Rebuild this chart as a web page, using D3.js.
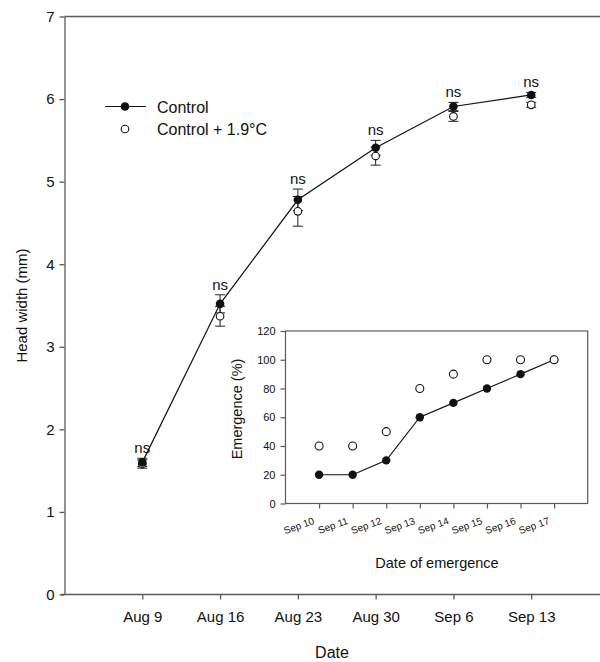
<!DOCTYPE html>
<html><head><meta charset="utf-8">
<script src="https://cdn.jsdelivr.net/npm/d3@7"></script>
<style>
body{margin:0;background:#fff}
text{font-family:"Liberation Sans",Arial,Helvetica,sans-serif;fill:#111}
</style>
</head><body>
<svg id="chart" width="600" height="662"></svg>
<script>
// ---- Main panel data ----
const sampleDates = ["2010-08-09","2010-08-16","2010-08-23","2010-08-30","2010-09-06","2010-09-13"];
const mainXTickLabels = ["Aug 9","Aug 16","Aug 23","Aug 30","Sep 6","Sep 13"];
const controlWidth = [1.60, 3.52, 4.78, 5.41, 5.91, 6.05];
const controlSE    = [0.05, 0.11, 0.13, 0.09, 0.05, 0.03];
const warmedWidth  = [1.58, 3.37, 4.64, 5.31, 5.79, 5.93];
const warmedSE     = [0.05, 0.12, 0.18, 0.11, 0.06, 0.03];
const sigLabels    = ["ns","ns","ns","ns","ns","ns"];
const mainYTicks   = [0,1,2,3,4,5,6,7];
const mainXDomain  = ["2010-08-02","2010-09-20"];
const seriesNames  = ["Control","Control + 1.9°C"];

// ---- Inset data ----
const emergeDates = ["2010-09-10","2010-09-11","2010-09-12","2010-09-13","2010-09-14","2010-09-15","2010-09-16","2010-09-17"];
const insetXTickLabels = ["Sep 10","Sep 11","Sep 12","Sep 13","Sep 14","Sep 15","Sep 16","Sep 17"];
const emergeControl = [20, 20, 30, 60, 70, 80, 90, 100];
const emergeWarmed  = [40, 40, 50, 80, 90, 100, 100, 100];
const insetYTicks   = [0,20,40,60,80,100,120];
const insetXDomain  = ["2010-09-09","2010-09-18"];

const parse = d3.timeParse("%Y-%m-%d");
const svg = d3.select("#chart");
const axisColor = "#5a5a5a";

// ---- Main scales ----
const x = d3.scaleTime().domain(mainXDomain.map(parse)).range([64.5, 609]);
const y = d3.scaleLinear().domain([0, 7]).range([594.5, 16.5]);

const main = svg.append("g");

// top border
main.append("line").attr("x1", 64.5).attr("x2", 600).attr("y1", 16.5).attr("y2", 16.5)
  .attr("stroke", axisColor).attr("stroke-width", 1.3);

const xAxis = main.append("g").attr("transform", `translate(0,${y(0)})`)
  .call(d3.axisBottom(x).tickValues(sampleDates.map(parse))
    .tickFormat((d,i)=>mainXTickLabels[i]).tickSize(5).tickSizeOuter(0).tickPadding(12));
const yAxis = main.append("g").attr("transform", `translate(${x.range()[0]},0)`)
  .call(d3.axisLeft(y).tickValues(mainYTicks).tickFormat(d3.format("d"))
    .tickSize(5).tickSizeOuter(0).tickPadding(5));
[xAxis, yAxis].forEach(g => {
  g.selectAll("path, line").attr("stroke", axisColor).attr("stroke-width", 1.3);
  g.selectAll("text").style("font-size", "15px").style("font-family", '"Liberation Sans",Arial,sans-serif').attr("fill", "#111");
});
xAxis.select(".domain").attr("d", `M61,0H600`);

// axis titles
main.append("text").attr("x", 332).attr("y", 658).attr("text-anchor", "middle")
  .style("font-size", "16px").text("Date");
main.append("text").attr("transform", `translate(27,${(y(0)+y(7))/2}) rotate(-90)`)
  .attr("text-anchor", "middle").style("font-size", "15px").text("Head width (mm)");

// line for control
const pts = sampleDates.map((d,i)=>({date: parse(d), c: controlWidth[i], ce: controlSE[i], w: warmedWidth[i], we: warmedSE[i], sig: sigLabels[i]}));
main.append("path").datum(pts)
  .attr("d", d3.line().x(d=>x(d.date)).y(d=>y(d.c)))
  .attr("fill", "none").attr("stroke", "#111").attr("stroke-width", 1.2);

// error bars
function errBars(key, ekey) {
  const g = main.append("g").attr("stroke", "#222").attr("stroke-width", 1);
  pts.forEach(p => {
    const cx = x(p.date), lo = y(p[key]-p[ekey]), hi = y(p[key]+p[ekey]);
    g.append("line").attr("x1", cx).attr("x2", cx).attr("y1", lo).attr("y2", hi);
    g.append("line").attr("x1", cx-5).attr("x2", cx+5).attr("y1", lo).attr("y2", lo);
    g.append("line").attr("x1", cx-5).attr("x2", cx+5).attr("y1", hi).attr("y2", hi);
  });
}
errBars("w", "we");
errBars("c", "ce");

main.selectAll("circle.warm").data(pts).join("circle").attr("class","warm")
  .attr("cx", d=>x(d.date)).attr("cy", d=>y(d.w)).attr("r", 3.8)
  .attr("fill", "#fff").attr("stroke", "#111").attr("stroke-width", 1.1);
main.selectAll("circle.ctrl").data(pts).join("circle").attr("class","ctrl")
  .attr("cx", d=>x(d.date)).attr("cy", d=>y(d.c)).attr("r", 4.3)
  .attr("fill", "#111");

// significance labels
main.selectAll("text.sig").data(pts).join("text").attr("class","sig")
  .attr("x", d=>x(d.date)).attr("y", d=>Math.min(y(d.c+d.ce), y(d.w+d.we)) - 5)
  .attr("text-anchor", "middle").style("font-size", "15px").text(d=>d.sig);

// legend
const leg = main.append("g");
leg.append("line").attr("x1", 105).attr("x2", 146).attr("y1", 106.5).attr("y2", 106.5)
  .attr("stroke", "#111").attr("stroke-width", 1.2);
leg.append("circle").attr("cx", 125).attr("cy", 106.5).attr("r", 4.3).attr("fill", "#111");
leg.append("circle").attr("cx", 125).attr("cy", 129).attr("r", 3.8)
  .attr("fill", "#fff").attr("stroke", "#111").attr("stroke-width", 1.1);
leg.append("text").attr("x", 157).attr("y", 112.5).style("font-size", "16px").text(seriesNames[0]);
leg.append("text").attr("x", 157).attr("y", 135).style("font-size", "16px").text(seriesNames[1]);

// ---- Inset ----
const xi = d3.scaleTime().domain(insetXDomain.map(parse)).range([285.5, 587.7]);
const yi = d3.scaleLinear().domain([0, 120]).range([503.5, 331]);
const inset = svg.append("g");
inset.append("rect").attr("x", xi.range()[0]).attr("y", yi.range()[1])
  .attr("width", xi.range()[1]-xi.range()[0]).attr("height", yi.range()[0]-yi.range()[1])
  .attr("fill", "#fff").attr("stroke", axisColor).attr("stroke-width", 1.2);

const ixAxis = inset.append("g").attr("transform", `translate(0,${yi(0)})`)
  .call(d3.axisBottom(xi).tickValues(emergeDates.map(parse)).tickFormat("").tickSize(5).tickSizeOuter(0));
const iyAxis = inset.append("g").attr("transform", `translate(${xi.range()[0]},0)`)
  .call(d3.axisLeft(yi).tickValues(insetYTicks).tickFormat(d3.format("d")).tickSize(5).tickSizeOuter(0).tickPadding(5));
[ixAxis, iyAxis].forEach(g => {
  g.selectAll("path, line").attr("stroke", axisColor).attr("stroke-width", 1.2);
  g.selectAll("text").style("font-size", "11px").style("font-family", '"Liberation Sans",Arial,sans-serif').attr("fill", "#111");
});
ixAxis.select(".domain").remove();
iyAxis.select(".domain").remove();

inset.selectAll("text.ixl").data(emergeDates).join("text").attr("class","ixl")
  .attr("transform", d=>`translate(${xi(parse(d))-4},${yi(0)+20}) rotate(-20)`)
  .attr("text-anchor", "end").style("font-size", "10px")
  .text((d,i)=>insetXTickLabels[i]);

inset.append("text").attr("x", 437).attr("y", 568).attr("text-anchor", "middle")
  .style("font-size", "14.5px").text("Date of emergence");
inset.append("text").attr("transform", `translate(242,409) rotate(-90)`)
  .attr("text-anchor", "middle").style("font-size", "14.5px").text("Emergence (%)");

const ipts = emergeDates.map((d,i)=>({date: parse(d), c: emergeControl[i], w: emergeWarmed[i]}));
inset.append("path").datum(ipts)
  .attr("d", d3.line().x(d=>xi(d.date)).y(d=>yi(d.c)))
  .attr("fill", "none").attr("stroke", "#111").attr("stroke-width", 1.1);
inset.selectAll("circle.ic").data(ipts).join("circle").attr("class","ic")
  .attr("cx", d=>xi(d.date)).attr("cy", d=>yi(d.c)).attr("r", 4.2).attr("fill", "#111");
inset.selectAll("circle.iw").data(ipts).join("circle").attr("class","iw")
  .attr("cx", d=>xi(d.date)).attr("cy", d=>yi(d.w)).attr("r", 4)
  .attr("fill", "#fff").attr("stroke", "#111").attr("stroke-width", 1.1);
</script>
</body></html>
